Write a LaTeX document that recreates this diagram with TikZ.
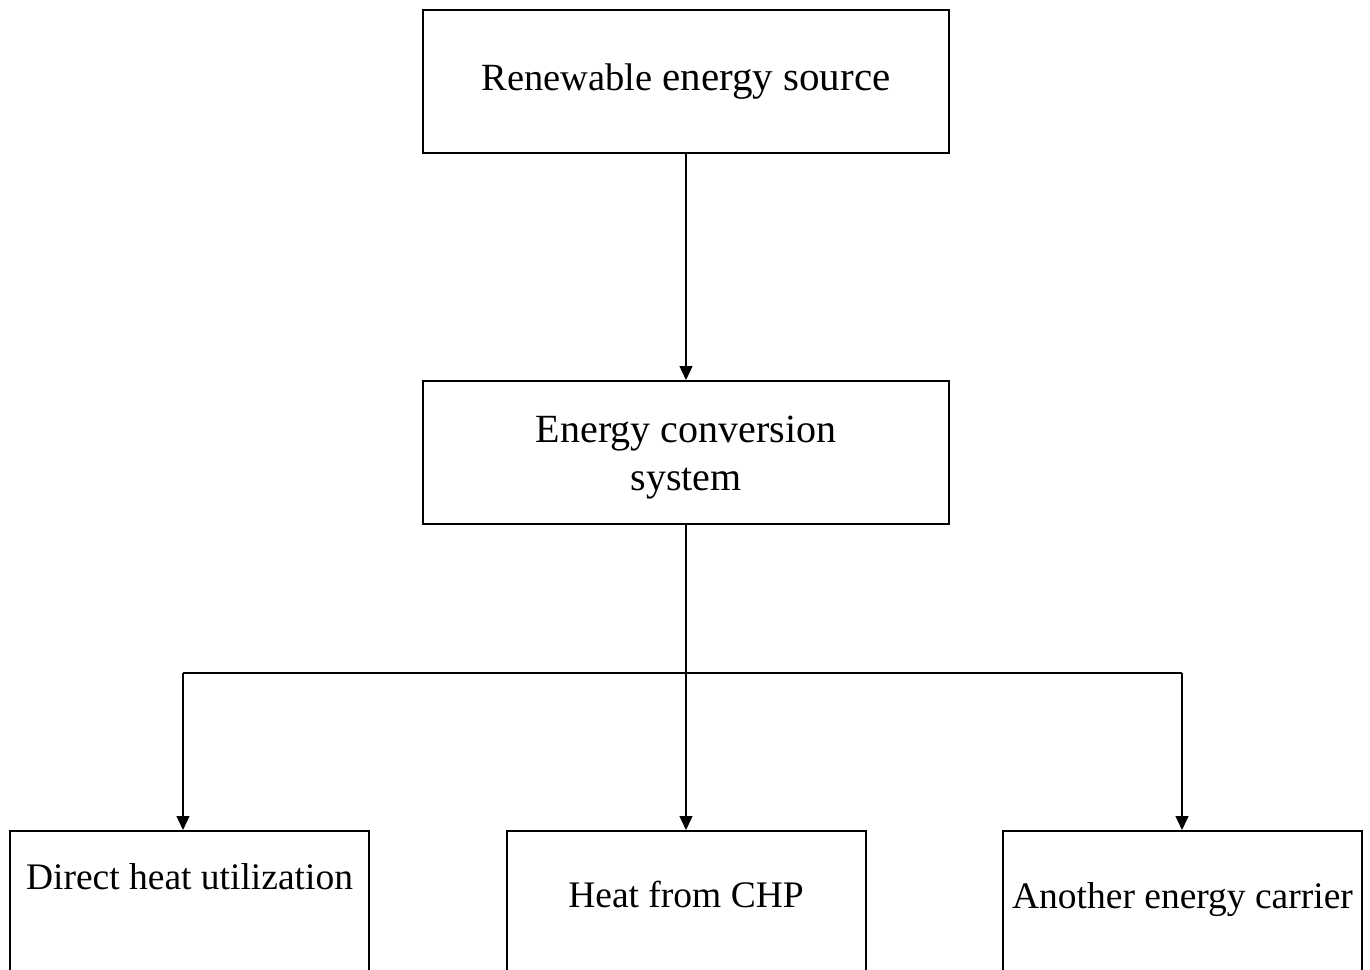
\documentclass[tikz,border=0pt]{standalone}
\usepackage{fontspec}
\setmainfont{Liberation Serif}
\usetikzlibrary{positioning,arrows.meta}

\begin{document}
\begin{tikzpicture}[x=1pt,y=-1pt,>={Triangle[length=14pt,width=13pt]},
  font=\fontsize{40}{48}\selectfont,
  box/.style={draw,line width=2pt,inner sep=0pt},
  link/.style={line width=1.3pt}]
\useasboundingbox (0,0) rectangle (1370,969);
\clip (0,0) rectangle (1370,969);
% upper boxes
\node[box,minimum width=526pt,minimum height=143pt] (source) at (686,81.5)
  {{\fontsize{38.5}{46}\selectfont Renewable} {\fontsize{41}{48}\selectfont
  energy source}};
\node[box,minimum width=526pt,minimum height=143pt] (conv) at (686,452.5) {};
\node[align=center,inner sep=0pt] (convlab) at (686,458)
  {Energy conversion\\system};
% lower boxes, cut by the page edge
\foreach \n/\x/\h/\lab in {heat/189.5/58/{Direct heat utilization},
  chp/686/76/{Heat from CHP},carrier/1182.5/77/{Another energy carrier}}{
  \node[box,anchor=north,minimum width=359pt,text height=\h pt,
    text depth=200pt,font=\fontsize{37.5}{45}\selectfont] (\n) at (\x,830)
    {\lab};
}
% connectors
\coordinate (jl) at (183,673);
\coordinate (jr) at (1182,673);
\draw[link,->] (source) -- (conv);
\draw[link,->] (conv) -- (chp);
\draw[link] (jl) -- (jr);
\draw[link,->] (jl) -- (jl |- heat.north);
\draw[link,->] (jr) -- (jr |- carrier.north);
\end{tikzpicture}
\end{document}
